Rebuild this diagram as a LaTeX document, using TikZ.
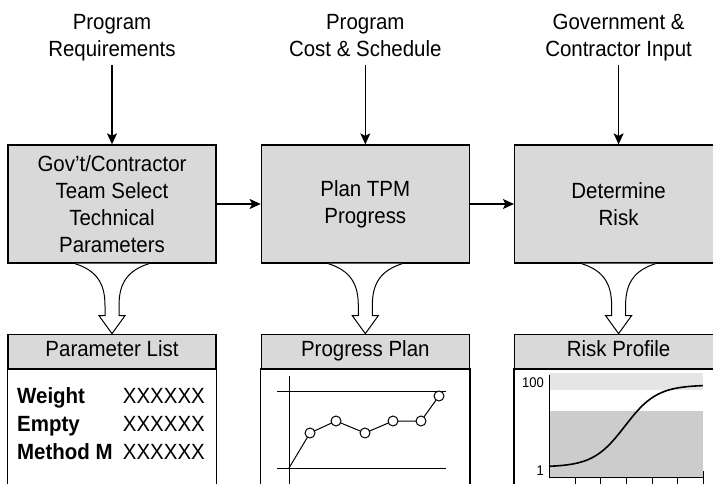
\documentclass[tikz,border=0pt]{standalone}
\usepackage{fontspec}
\setmainfont{Liberation Sans}[FakeStretch=0.93]
\usetikzlibrary{positioning,calc,arrows.meta}
\definecolor{boxgray}{gray}{0.85}
\definecolor{bandgray}{gray}{0.8}
\definecolor{lightband}{gray}{0.9}
\newcommand{\bigfont}{\fontsize{22}{27}\selectfont}
\newcommand{\smallfont}{\fontsize{14}{16}\selectfont}
\tikzset{
    proc-box/.style = {draw, fill=boxgray, line width=1.3pt, rectangle, minimum width=208pt, minimum height=118pt, align=center, inner sep=0pt},
    head-box/.style = {draw, fill=boxgray, line width=1.3pt, rectangle, minimum width=208pt, minimum height=34pt, inner sep=0pt, text height=16pt, text depth=5pt},
    in-label/.style = {align=center, inner sep=0pt, anchor=south},
    flow-arrow/.style = {-{Stealth[length=11pt,width=10pt,inset=2.5pt]}, line width=1.2pt},
    fork-line/.style = {draw, fill=white, line width=1pt},
    chart-line/.style = {line width=1pt},
}
% hollow forked arrow from a process box down to its result
\newcommand{\forkarrow}[2]{%
  \draw[fork-line] ($(#1.south)+(-37,0)$) .. controls +(22,7) and +(0,-22) .. ($(#1.south)+(-7,42)$)
    -- ($(#2.north)+(-7,-18)$) -- ($(#2.north)+(-13,-18)$) -- (#2.north)
    -- ($(#2.north)+(13,-18)$) -- ($(#2.north)+(7,-18)$) -- ($(#1.south)+(7,42)$)
    .. controls +(0,-22) and +(-22,7) .. ($(#1.south)+(37,0)$);}

\begin{document}
\begin{tikzpicture}[x=1pt, y=-1pt, font=\bigfont]
\clip (0,0) rectangle (713,484);

% process boxes
\node[proc-box] (select) at (112,204) {Gov’t/Contractor\\Team Select\\Technical\\Parameters};
\node[proc-box, right=44pt of select] (plan) {Plan TPM\\Progress};
\node[proc-box, right=44pt of plan] (risk) {Determine\\Risk};

% inputs
\node[in-label] (req-in) at (112,65) {Program\\Requirements\strut};
\node[in-label] (cost-in) at (plan.north |- req-in.south) {Program\\Cost \& Schedule\strut};
\node[in-label] (gov-in) at (risk.north |- req-in.south) {Government \&\\Contractor Input\strut};

\draw[flow-arrow] (req-in.south) -- (select.north);
\draw[flow-arrow] (cost-in.south) -- (plan.north);
\draw[flow-arrow] (gov-in.south) -- (risk.north);
\draw[flow-arrow] (select) -- (plan);
\draw[flow-arrow] (plan) -- (risk);

% results
\node[head-box, below=70pt of select] (param-head) {Parameter List};
\node[head-box, below=70pt of plan] (progress-head) {Progress Plan};
\node[head-box, below=70pt of risk] (risk-head) {Risk Profile};
\foreach \h in {param-head, progress-head, risk-head}
    \draw[line width=1.3pt, fill=white] (\h.south west) rectangle ([yshift=-140pt]\h.south east);

\forkarrow{select}{param-head}
\forkarrow{plan}{progress-head}
\forkarrow{risk}{risk-head}

% parameter list
\foreach \param/\yy [count=\i] in {Weight/403, Empty/431, Method M/459} {
    \node[anchor=base west, inner sep=0pt, font=\bigfont\bfseries] (param-\i) at (17,\yy) {\param};
    \node[anchor=base east, inner sep=0pt] (value-\i) at (205,\yy) {XXXXXX};
}

% progress plan chart
\draw[chart-line] (289,376) -- (289,490);
\draw[chart-line] (277,391) -- (446,391);
\draw[chart-line] (277,468) -- (446,468);
\draw[chart-line] (289,468) -- (310,433) -- (336,421) -- (365,433) -- (393,421) -- (421,421) -- (439,396);
\foreach \px/\py in {310/433, 336/421, 365/433, 393/421, 421/421, 439/396}
    \draw[chart-line, fill=white] (\px,\py) circle (5pt);

% risk profile chart
\fill[lightband] (549,373) rectangle (703,390);
\fill[bandgray] (549,411) rectangle (703,477);
\draw[line width=1.6pt] plot[domain=549:703, samples=80, smooth] (\x, {467-82/(1+exp(-(\x-625)/16))});
\draw[chart-line] (549,375) -- (549,477) -- (703,477);
\foreach \tx in {575,600,626,652,677}
    \draw[chart-line] (\tx,477) -- (\tx,490);
\draw[chart-line] (703,471) -- (703,490);
\node[anchor=east, inner sep=0pt, font=\smallfont] (top-mark) at (544,383) {100};
\node[anchor=east, inner sep=0pt, font=\smallfont] (low-mark) at (544,471) {1};
\end{tikzpicture}
\end{document}
